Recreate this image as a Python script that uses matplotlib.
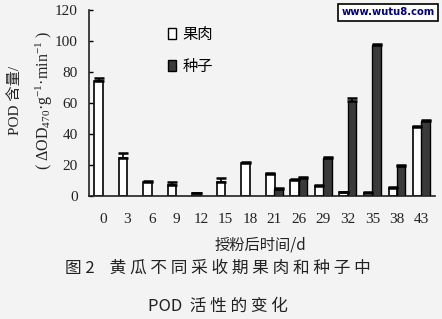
import numpy as np
import matplotlib
matplotlib.use("Agg")
import matplotlib.pyplot as plt
from matplotlib.patches import Patch

categories = ["0", "3", "6", "9", "12", "15", "18", "21", "26", "29", "32", "35", "38", "43"]
flesh = [74.2, 24.3, 9.0, 7.1, 1.7, 9.0, 21.5, 14.0, 10.3, 6.5, 2.4, 2.2, 5.0, 44.7]
flesh_err = [2.0, 3.7, 0.9, 1.7, 0.4, 2.4, 0.6, 0.6, 0.5, 0.6, 0.4, 0.3, 0.5, 0.5]
seed = [np.nan, np.nan, np.nan, np.nan, np.nan, np.nan, np.nan, 4.7, 11.8, 24.7, 61.3, 97.6, 19.4, 48.6]
seed_err = [np.nan, np.nan, np.nan, np.nan, np.nan, np.nan, np.nan, 0.5, 0.3, 0.7, 2.2, 0.5, 0.4, 0.4]

plt.rcParams["mathtext.fontset"] = "custom"
plt.rcParams["mathtext.rm"] = "Liberation Serif"
plt.rcParams["mathtext.it"] = "Liberation Serif:italic"
plt.rcParams["mathtext.bf"] = "Liberation Serif:bold"

serif = ["Liberation Serif", "Noto Sans CJK SC", "DejaVu Serif"]
cjk = ["Noto Sans CJK SC", "Liberation Serif", "DejaVu Sans"]
bg = "#f3f3f3"
ink = "#222222"

fig = plt.figure(figsize=(4.42, 3.19), dpi=100, facecolor=bg)
ax = fig.add_axes([89/442, 1-196/319, (435-89)/442, (196-10)/319])
ax.set_facecolor(bg)

x = np.arange(len(categories))
w = 0.35
off = 0.17
ax.bar(x - off, flesh, w, color="white", edgecolor="black", linewidth=1.2, zorder=2)
ax.bar(x + off, seed, w, color="#3a3a3a", edgecolor="black", linewidth=1.0, zorder=3)
ax.errorbar(x - off, flesh, yerr=[np.zeros(len(flesh)), flesh_err], fmt="none",
            ecolor="black", elinewidth=1.2, capsize=3.8, capthick=1.8, zorder=4)
ax.errorbar(x + off, seed, yerr=[np.zeros(len(seed)), seed_err], fmt="none",
            ecolor="black", elinewidth=1.2, capsize=3.8, capthick=1.8, zorder=4)

ax.set_xlim(-0.56, 13.55)
ax.set_ylim(0, 120)
ax.set_yticks(range(0, 121, 20))
ax.set_xticks(x)
ax.set_xticklabels(categories, fontfamily=serif, fontsize=11, color=ink)
ax.set_yticklabels([str(v) for v in range(0, 121, 20)], fontfamily=serif, fontsize=11, color=ink)
ax.tick_params(axis="x", length=0, pad=12)
ax.tick_params(axis="y", direction="in", length=3, width=1, pad=8)
for s in ["top", "right"]:
    ax.spines[s].set_visible(False)
for s in ["left", "bottom"]:
    ax.spines[s].set_linewidth(1.2)
    ax.spines[s].set_color(ink)

handles = [Patch(facecolor="white", edgecolor="black", linewidth=1.0),
           Patch(facecolor="#3a3a3a", edgecolor="black", linewidth=1.0)]
ax.legend(handles, ["果肉", "种子"], loc="upper left", bbox_to_anchor=(0.19, 0.99),
          frameon=False, prop={"family": cjk, "size": 11}, handlelength=0.5,
          handleheight=0.7, handletextpad=0.4, labelspacing=1.0)

fig.text(15/442, 1-100/319, "POD 含量/", rotation=90, ha="center", va="center",
         fontfamily=serif, fontsize=11, color=ink)
fig.text(44/442, 1-100/319, "( ΔOD$_{470}$·g$^{-1}$·min$^{-1}$ )", rotation=90, ha="center", va="center",
         fontfamily=serif, fontsize=11.5, color=ink)
fig.text(260/442, 1-245/319, "授粉后时间/d", ha="center", va="center",
         fontfamily=cjk, fontsize=11, color=ink)
fig.text(218/442, 1-268/319, "图 2    黄 瓜 不 同 采 收 期 果 肉 和 种 子 中", ha="center", va="center",
         fontfamily=cjk, fontsize=12, color=ink)
fig.text(218/442, 1-306/319, "POD  活 性 的 变 化", ha="center", va="center",
         fontfamily=cjk, fontsize=12, color=ink)
fig.text(388/442, 1-12/319, "www.wutu8.com", ha="center", va="center",
         fontfamily="DejaVu Sans", fontweight="bold", fontsize=7.2, color="#000080",
         bbox=dict(boxstyle="square,pad=0.35", facecolor="white", edgecolor="black", linewidth=1.2))

fig.savefig("out.png", dpi=100, facecolor=bg)
